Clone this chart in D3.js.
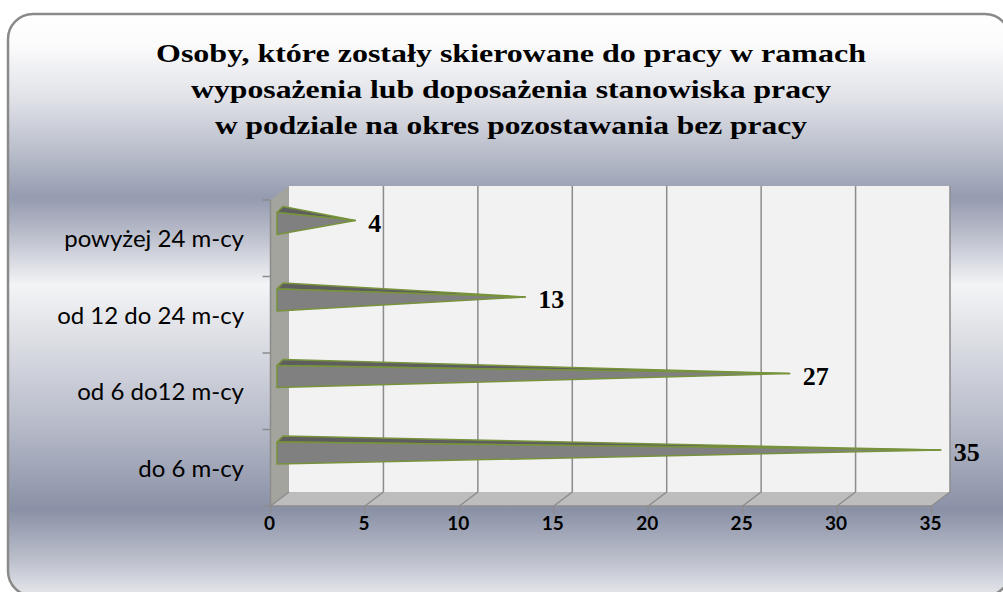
<!DOCTYPE html>
<html><head><meta charset="utf-8">
<script src="https://cdn.jsdelivr.net/npm/d3@7"></script>
<style>html,body{margin:0;padding:0;background:#fff;overflow:hidden}</style>
</head><body>
<svg id="c" width="1003" height="592"></svg>
<script>
const titleLines = ["Osoby, które zostały skierowane do pracy w ramach",
  "wyposażenia lub doposażenia stanowiska pracy",
  "w podziale na okres pozostawania bez pracy"];
const titleWidths = [710, 640, 592];
const categories = ["powyżej 24 m-cy", "od 12 do 24 m-cy", "od 6 do12 m-cy", "do 6 m-cy"];
const values = [4, 13, 27, 35];
const ticks = [0, 5, 10, 15, 20, 25, 30, 35];

const svg = d3.select("#c");
const defs = svg.append("defs");
const g = defs.append("linearGradient").attr("id","bg").attr("x1",0).attr("x2",0)
  .attr("gradientUnits","userSpaceOnUse").attr("y1",14).attr("y2",596);
[[14,"#ffffff"],[45,"#fbfbfc"],[100,"#dfe1e7"],[160,"#b3b8c6"],[198,"#959bb0"],[228,"#b3b7c6"],
 [285,"#f3f4f6"],[340,"#dcdee4"],[420,"#b9bdcb"],[510,"#8a91a6"],[560,"#bcc0cc"],[596,"#e6e8ec"]]
 .forEach(([y,c])=>g.append("stop").attr("offset",((y-14)/(596-14))).attr("stop-color",c));

svg.append("rect").attr("x",8).attr("y",14).attr("width",1002).attr("height",582)
  .attr("rx",25).attr("ry",25).attr("fill","url(#bg)").attr("stroke","#8a8a8a").attr("stroke-width",2.5);

// title
titleLines.forEach((l,i)=>svg.append("text").attr("text-anchor","middle")
  .attr("font-family","'Liberation Serif','Times New Roman',serif").attr("font-weight","bold")
  .attr("font-size",25).attr("fill","#000")
  .attr("x",511).attr("y",62+i*36)
  .attr("textLength",titleWidths[i]).attr("lengthAdjust","spacingAndGlyphs").text(l));

// 3D geometry
const x = d3.scaleLinear().domain([0,35]).range([289,950]);
const y = d3.scaleBand().domain(categories).range([186,492]);
const ddx = -18.5, ddy = 14;
const yB = 492;

// left side wall
svg.append("polygon").attr("points",[[x(0)+ddx,186+ddy],[x(0),186],[x(0),yB],[x(0)+ddx,yB+ddy]].join(" "))
  .attr("fill","#a3a49d");
// floor
svg.append("polygon").attr("points",[[x(0)+ddx,yB+ddy],[x(0),yB],[x(35),yB],[x(35)+ddx,yB+ddy]].join(" "))
  .attr("fill","#bdbdbd");
// back wall
svg.append("rect").attr("x",x(0)).attr("y",186).attr("width",x(35)-x(0)).attr("height",yB-186).attr("fill","#f2f2f2");
// grid lines
ticks.forEach(v=>{
  if(v>0) svg.append("line").attr("x1",x(v)).attr("x2",x(v)).attr("y1",186).attr("y2",yB)
    .attr("stroke","#8c8c8c").attr("stroke-width",1.5);
  svg.append("polyline").attr("points",[[x(v),yB],[x(v)+ddx,yB+ddy],[x(v)+ddx,yB+ddy+8]].join(" "))
    .attr("fill","none").attr("stroke","#8c8c8c").attr("stroke-width",1.5);
});
// axis lines
svg.append("line").attr("x1",x(0)+ddx).attr("x2",x(35)+ddx).attr("y1",yB+ddy).attr("y2",yB+ddy)
  .attr("stroke","#8c8c8c").attr("stroke-width",1.5);
svg.append("line").attr("x1",x(0)+ddx).attr("x2",x(0)+ddx).attr("y1",186+ddy).attr("y2",yB+ddy)
  .attr("stroke","#8c8c8c").attr("stroke-width",1.5);
const bandEdges = categories.map(c=>y(c)).concat([yB]);
bandEdges.forEach(e=>svg.append("line").attr("x1",x(0)+ddx-8).attr("x2",x(0)+ddx)
  .attr("y1",e+ddy).attr("y2",e+ddy).attr("stroke","#8c8c8c").attr("stroke-width",1.5));

// x tick labels
svg.append("g").selectAll("text").data(ticks).join("text")
  .attr("x",d=>x(d)+ddx-1).attr("y",530).attr("text-anchor","middle")
  .attr("font-family","Lato,'Open Sans',sans-serif").attr("font-weight","bold").attr("font-size",19)
  .attr("fill","#000").text(d=>d);

// category labels
svg.append("g").selectAll("text").data(categories).join("text")
  .attr("x",244).attr("y",d=>y(d)+ddy+y.bandwidth()/2+9).attr("text-anchor","end")
  .attr("font-family","Lato,'Open Sans',sans-serif").attr("font-size",24).attr("fill","#000").text(d=>d);

// bars (pyramids)
const bars = svg.append("g");
categories.forEach((c,i)=>{
  const v = values[i];
  const x0 = x(0) - 12;
  const yT = y(c) + ddy + 12.5;
  const yBt = yT + 22;
  const tipX = x(v) + ddx/2;
  const tipY = (yT - 6 + yBt)/2;
  bars.append("polygon").attr("points",[[x0,yT],[x0+6,yT-6],[tipX,tipY]].join(" "))
    .attr("fill","#5e5e5e").attr("stroke","#77933c").attr("stroke-width",1.5).attr("stroke-linejoin","round");
  bars.append("polygon").attr("points",[[x0,yT],[x0,yBt],[tipX,tipY]].join(" "))
    .attr("fill","#808080").attr("stroke","#77933c").attr("stroke-width",1.5).attr("stroke-linejoin","round");
  svg.append("text").attr("x",tipX+13).attr("y",tipY+11)
    .attr("font-family","'Liberation Serif','Times New Roman',serif").attr("font-weight","bold")
    .attr("font-size",26).attr("fill","#000").text(v);
});
</script>
</body></html>
